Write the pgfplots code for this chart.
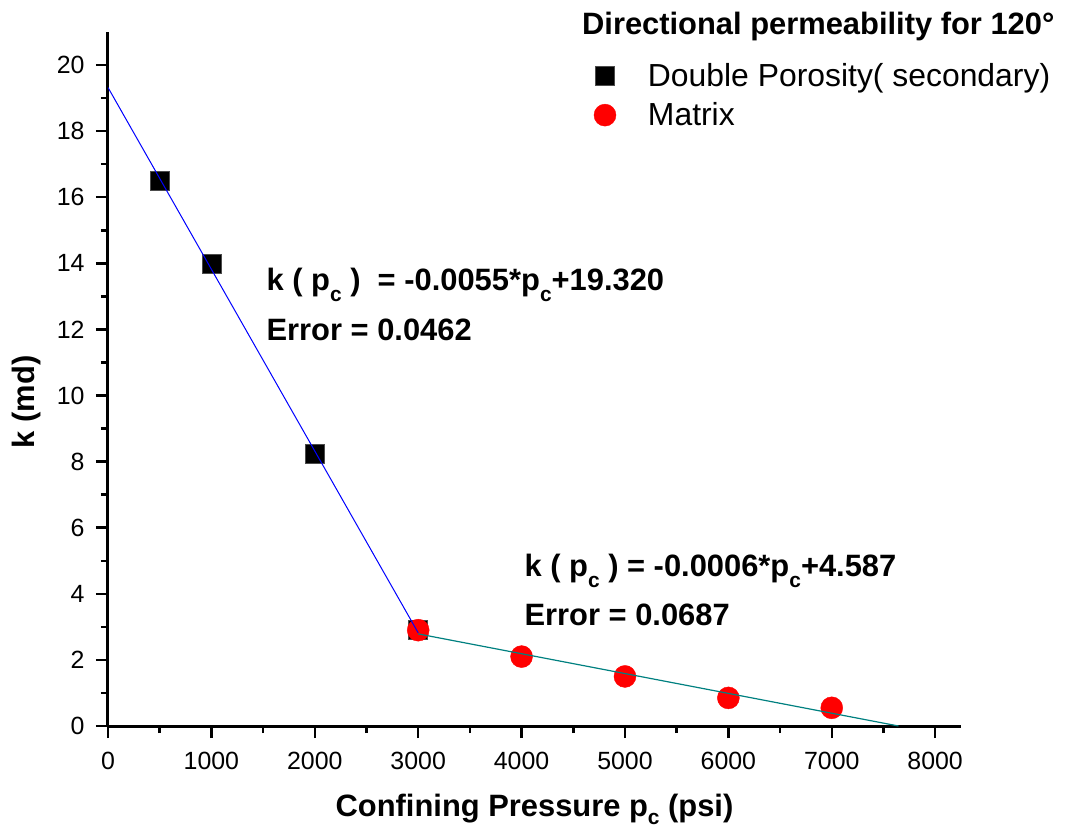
\documentclass[border=0pt]{standalone}
\usepackage{fontspec}
\setmainfont{Liberation Sans}
\usepackage{pgfplots}
\pgfplotsset{compat=1.18}
\newcommand\fs[1]{\fontsize{#1}{#1}\selectfont}
\newcommand\sub[1]{\raisebox{-11bp}{\fs{21}#1}}
\definecolor{fitteal}{RGB}{0,128,128}

\begin{document}
\begin{tikzpicture}
\begin{axis}[
  scale only axis,
  width=853bp, height=694bp,
  xmin=0, xmax=8250, ymin=0, ymax=21,
  axis x line*=bottom, axis y line*=left,
  axis line style={line width=3bp},
  x axis line style={-}, y axis line style={-},
  xtick={0,1000,...,8000}, ytick={0,2,...,20},
  minor x tick num=1, minor y tick num=1,
  tick align=outside,
  major tick length=12bp, minor tick length=7bp,
  every tick/.style={black,line width=2.5bp},
  tick label style={font=\fs{25}},
  /pgf/number format/assume math mode=true,
  /pgf/number format/set thousands separator={},
  xticklabel style={yshift=-11bp},
  yticklabel style={xshift=-8bp},
  xlabel={\bfseries Confining Pressure p\raisebox{-8bp}{\fs{21}c} (psi)},
  ylabel={\bfseries k (md)},
  label style={font=\fs{31}},
  xlabel style={at={(axis description cs:0.5,-0.131)},anchor=base},
  ylabel style={at={(axis description cs:-0.095,0.467)},anchor=center},
  legend style={at={(axis description cs:0.566,0.961)},anchor=north west,
    draw=none,fill=none,font=\fs{32},row sep=11bp,
    /tikz/every odd column/.append style={column sep=30bp}},
  legend cell align=left,
  clip mode=individual,
]
% data points
\addplot[only marks, mark=square*, mark size=9.5bp,
  mark options={fill=black, draw=black!70, line width=0.5bp}]
  coordinates {(500,16.5) (1000,14.0) (2000,8.25) (3000,2.9)};
\addlegendentry{Double Porosity( secondary)}
\addplot[only marks, mark=*, mark size=11bp, color=red,
  mark options={fill=red, draw=red}]
  coordinates {(3000,2.9) (4000,2.1) (5000,1.5) (6000,0.85) (7000,0.55)};
\addlegendentry{Matrix}
% fitted lines
\addplot[blue, line width=1bp, forget plot] coordinates {(0,19.32) (3000,2.82)};
\addplot[fitteal, line width=1.2bp, forget plot] coordinates {(3000,2.787) (7645,0)};

\node[anchor=base west, font=\fs{31}\bfseries] at (axis cs:1500,13.19)
  {k ( p\sub{c} )~~= -0.0055*p\sub{c}+19.320};
\node[anchor=base west, font=\fs{31}\bfseries] at (axis cs:1500,11.68)
  {Error = 0.0462};
\node[anchor=base west, font=\fs{31}\bfseries] at (axis cs:3995,4.51)
  {k ( p\sub{c} ) = -0.0006*p\sub{c}+4.587};
\node[anchor=base west, font=\fs{31}\bfseries] at (axis cs:3995,3.03)
  {Error = 0.0687};
\node[anchor=base east, font=\fs{31}\bfseries] at (axis description cs:1.1137,0.9957)
  {Directional permeability for 120°};
\end{axis}
\pgfresetboundingbox
\path (-108bp,-104bp) rectangle (958bp,726bp);
\end{tikzpicture}
\end{document}
